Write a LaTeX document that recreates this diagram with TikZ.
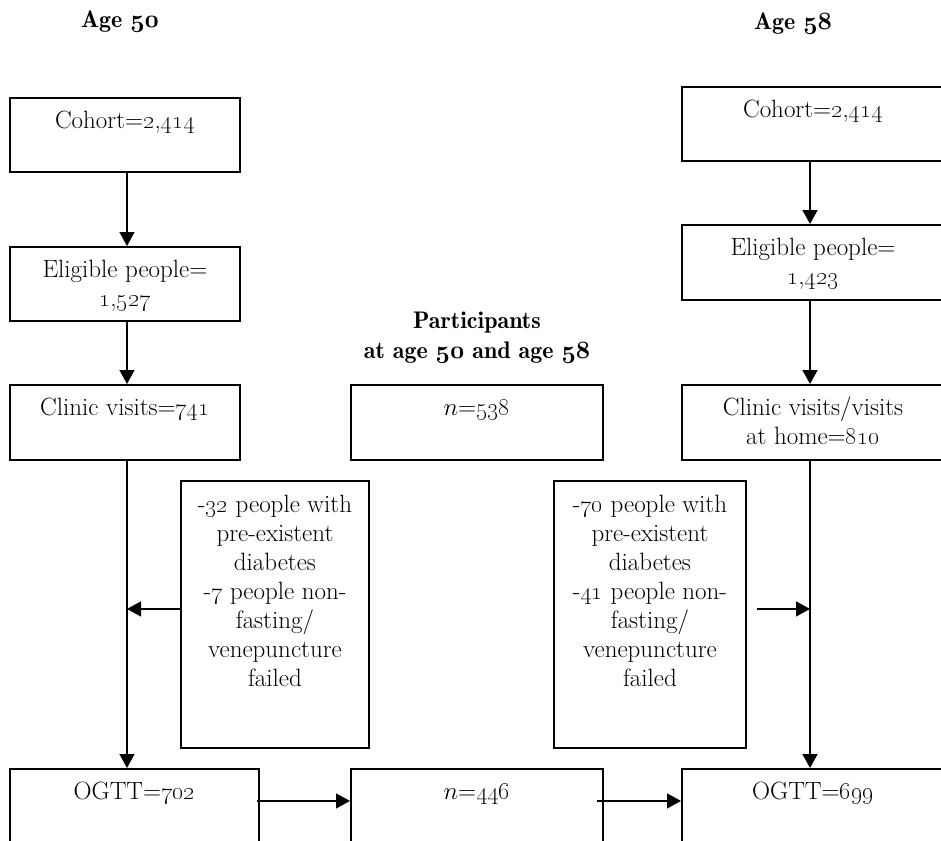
\documentclass[tikz,border=0pt]{standalone}
\usetikzlibrary{arrows.meta}
\newcommand\os[1]{\oldstylenums{#1}}
\newcommand\osb[1]{{\usefont{OML}{cmm}{b}{it}#1}}
\begin{document}
\begin{tikzpicture}[x=1pt,y=-1pt,
  box/.style={draw, line width=1.9pt, inner sep=0pt, anchor=north west},
  txt/.style={font=\fontsize{25}{29}\selectfont, align=center, inner sep=0pt, anchor=north},
  hd/.style={font=\fontsize{24}{30}\selectfont\fontseries{b}\selectfont, align=center, inner sep=0pt},
  arr/.style={line width=1.5pt, -{Triangle[length=14pt,width=15pt]}}]
\useasboundingbox (0,0) rectangle (941,840);
% headings
\node[hd, anchor=base] (h50) at (120,28) {Age \osb{50}};
\node[hd, anchor=base] (h58) at (793,30) {Age \osb{58}};
\node[hd, anchor=north] (hp) at (477,311) {\rule{0pt}{17pt}Participants\\at age \osb{50} and age \osb{58}};
% columns
\coordinate (LC) at (127,0);
\coordinate (RC) at (810,0);
% left boxes
\node[box, minimum width=230pt, minimum height=74pt] (L1) at (9,97) {};
\node[box, minimum width=230pt, minimum height=74pt] (L2) at (9,246) {};
\node[box, minimum width=230pt, minimum height=75pt] (L3) at (9,384) {};
\node[box, minimum width=249pt, minimum height=77pt] (L4) at (9,768) {};
% middle boxes
\node[box, minimum width=252pt, minimum height=75pt] (M1) at (350,384) {};
\node[box, minimum width=252pt, minimum height=77pt] (M2) at (350,768) {};
% right boxes
\node[box, minimum width=262pt, minimum height=74pt] (R1) at (681,86) {};
\node[box, minimum width=262pt, minimum height=75pt] (R2) at (681,224) {};
\node[box, minimum width=262pt, minimum height=75pt] (R3) at (681,384) {};
\node[box, minimum width=262pt, minimum height=77pt] (R4) at (681,768) {};
% exclusion boxes
\node[box, minimum width=188pt, minimum height=267pt] (LX) at (180,480) {};
\node[box, minimum width=192pt, minimum height=267pt] (RX) at (553,480) {};
% texts
\node[txt] (tL1) at ([yshift=-13pt]L1.north) {\rule{0pt}{18pt}Cohort=\os{2},\os{414}};
\node[txt] (tL2) at ([yshift=-13pt]L2.north) {\rule{0pt}{18pt}Eligible people=\\\os{1},\os{527}};
\node[txt] (tL3) at ([yshift=-13pt]L3.north) {\rule{0pt}{18pt}Clinic visits=\os{741}};
\node[txt] (tL4) at ([yshift=-13pt]L4.north) {\rule{0pt}{18pt}OGTT=\os{702}};
\node[txt] (tM1) at ([yshift=-13pt]M1.north) {\rule{0pt}{18pt}$n$=\os{538}};
\node[txt] (tM2) at ([yshift=-13pt]M2.north) {\rule{0pt}{18pt}$n$=\os{446}};
\node[txt] (tR1) at ([yshift=-13pt]R1.north) {\rule{0pt}{18pt}Cohort=\os{2},\os{414}};
\node[txt] (tR2) at ([yshift=-13pt]R2.north) {\rule{0pt}{18pt}Eligible people=\\\os{1},\os{423}};
\node[txt] (tR3) at ([yshift=-13pt]R3.north) {\rule{0pt}{18pt}Clinic visits/visits\\at home=\os{810}};
\node[txt] (tR4) at ([yshift=-13pt]R4.north) {\rule{0pt}{18pt}OGTT=\os{699}};
\node[txt] (tLX) at ([yshift=-14pt]LX.north) {\rule{0pt}{18pt}-\os{32} people with\\pre-existent\\diabetes\\-\os{7} people non-\\fasting/\\venepuncture\\failed};
\node[txt] (tRX) at ([yshift=-14pt]RX.north) {\rule{0pt}{18pt}-\os{70} people with\\pre-existent\\diabetes\\-\os{41} people non-\\fasting/\\venepuncture\\failed};
% connectors left
\draw[arr] (L1.south -| LC) -- (L2.north -| LC);
\draw[arr] (L2.south -| LC) -- (L3.north -| LC);
\draw[arr] (L3.south -| LC) -- (L4.north -| LC);
\draw[arr] ([yshift=5.5pt]LX.west) -- ([yshift=5.5pt]LX.west -| LC);
% connectors right
\draw[arr] (R1.south -| RC) -- (R2.north -| RC);
\draw[arr] (R2.south -| RC) -- (R3.north -| RC);
\draw[arr] (R3.south -| RC) -- (R4.north -| RC);
\draw[arr] ([xshift=10pt,yshift=5.5pt]RX.east) -- ([yshift=5.5pt]RX.east -| RC);
% bottom connectors
\draw[arr] ([xshift=-3pt,yshift=6.5pt]L4.east) -- ([yshift=6.5pt]M2.west);
\draw[arr] ([xshift=-7pt,yshift=6.5pt]M2.east) -- ([yshift=6.5pt]R4.west);
\end{tikzpicture}
\end{document}
